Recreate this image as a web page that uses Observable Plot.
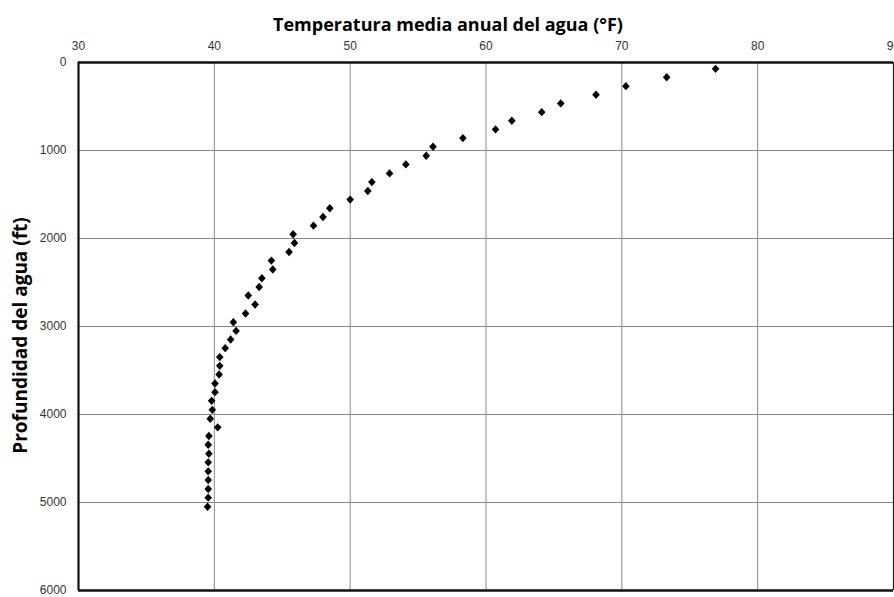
<!DOCTYPE html>
<html>
<head>
<meta charset="utf-8">
<script src="https://cdn.jsdelivr.net/npm/d3@7"></script>
<script src="https://cdn.jsdelivr.net/npm/@observablehq/plot@0.6"></script>
<style>
  html, body { margin: 0; padding: 0; background: #fff; }
  #chart svg { display: block; }
</style>
</head>
<body>
<div id="chart"></div>
<script>
// Water temperature (°F) vs depth (ft)
const temperature = [76.9, 73.3, 70.3, 68.1, 65.5, 64.1, 61.9, 60.7, 58.3, 56.1,
  55.6, 54.1, 52.9, 51.6, 51.3, 50.0, 48.5, 48.0, 47.3, 45.8,
  45.9, 45.5, 44.2, 44.3, 43.5, 43.3, 42.5, 43.0, 42.3, 41.4,
  41.6, 41.2, 40.8, 40.4, 40.4, 40.35, 40.05, 40.05, 39.8, 39.85,
  39.7, 40.25, 39.6, 39.55, 39.6, 39.55, 39.55, 39.55, 39.55, 39.55, 39.5];
const depth = [72, 167, 269, 367, 465, 564, 662, 760, 859, 957,
  1059, 1158, 1260, 1359, 1461, 1558, 1657, 1756, 1854, 1952,
  2051, 2153, 2251, 2353, 2452, 2551, 2648, 2750, 2852, 2951,
  3050, 3148, 3246, 3348, 3447, 3545, 3647, 3746, 3845, 3947,
  4049, 4146, 4245, 4344, 4446, 4544, 4646, 4745, 4847, 4945, 5048];
const xTicks = [30, 40, 50, 60, 70, 80, 90];
const yTicks = [0, 1000, 2000, 3000, 4000, 5000, 6000];
const title = "Temperatura media anual del agua (°F)";
const yTitle = "Profundidad del agua (ft)";

const data = temperature.map((t, i) => ({t, d: depth[i]}));

const diamond = {
  draw(context, size) {
    const w = 3.8, h = 4.2;
    context.moveTo(0, -h);
    context.lineTo(w, 0);
    context.lineTo(0, h);
    context.lineTo(-w, 0);
    context.closePath();
  }
};

const chart = Plot.plot({
  width: 894,
  height: 597,
  marginTop: 62,
  marginLeft: 78,
  marginRight: 1,
  marginBottom: 7,
  style: {fontFamily: "'Liberation Sans', Arial, sans-serif", background: "#fff"},
  x: {domain: [30, 90]},
  y: {domain: [0, 6000], reverse: true},
  marks: [
    Plot.ruleX(xTicks.slice(1, -1), {stroke: "#8a8a8a", strokeWidth: 1}),
    Plot.ruleY(yTicks.slice(1, -1), {stroke: "#8a8a8a", strokeWidth: 1}),
    Plot.ruleY([0], {stroke: "#111", strokeWidth: 2.5}),
    Plot.ruleY([6000], {stroke: "#111", strokeWidth: 2.5}),
    Plot.ruleX([30], {stroke: "#111", strokeWidth: 2.2}),
    Plot.ruleX([90], {stroke: "#222", strokeWidth: 1.2}),
    Plot.axisX(xTicks, {anchor: "top", tickSize: 0, tickPadding: 13, label: null, fontSize: 12, color: "#333", tickFormat: d => String(d)}),
    Plot.axisY(yTicks, {anchor: "left", tickSize: 0, tickPadding: 12, label: null, fontSize: 12, color: "#333", tickFormat: d => String(d)}),
    Plot.dot(data, {x: "t", y: "d", symbol: diamond, r: 3, fill: "#000", stroke: null}),
    Plot.text([title], {frameAnchor: "top", dx: -38, dy: -44, fontFamily: "'Open Sans', sans-serif", fontWeight: "bold", fontSize: 18, fill: "#000"}),
    Plot.text([yTitle], {frameAnchor: "left", textAnchor: "middle", rotate: -90, dx: -58, dy: 9, fontFamily: "'Open Sans', sans-serif", fontWeight: "bold", fontSize: 19, fill: "#000"})
  ]
});
document.getElementById("chart").append(chart);
</script>
</body>
</html>
